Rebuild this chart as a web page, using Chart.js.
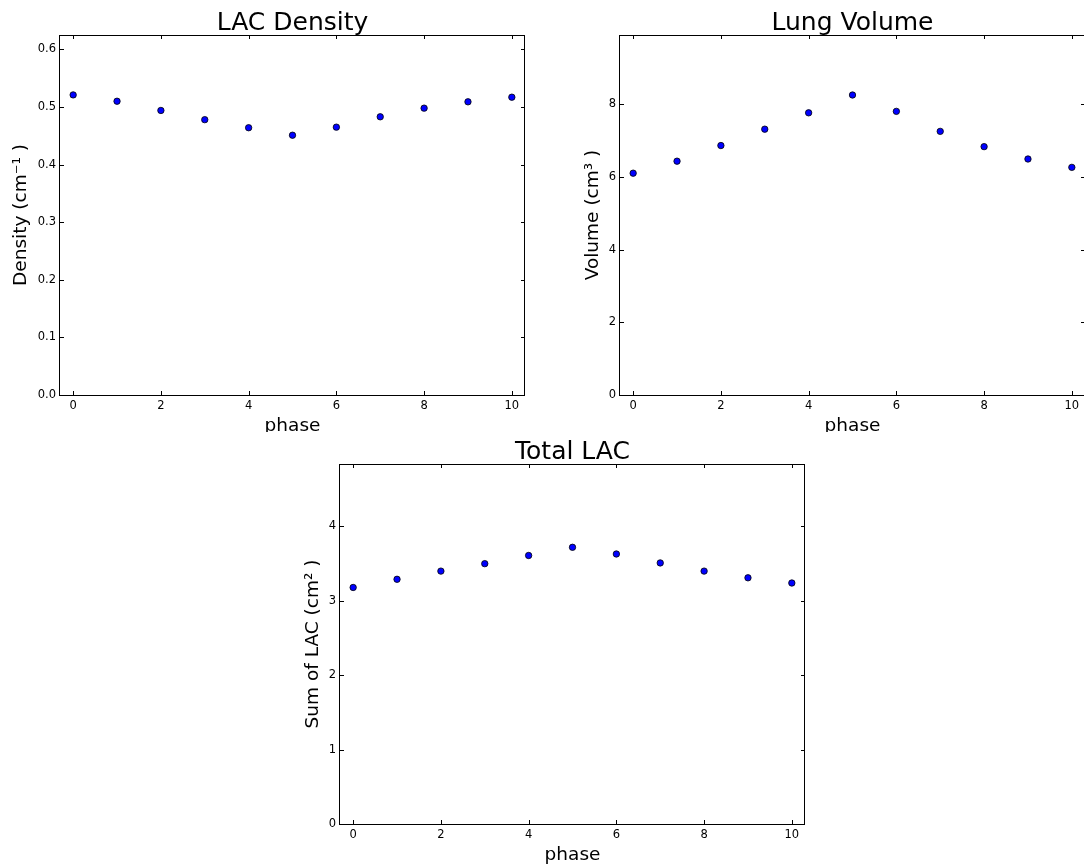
<!DOCTYPE html>
<html>
<head>
<meta charset="utf-8">
<script src="https://cdn.jsdelivr.net/npm/chart.js@4.4.1/dist/chart.umd.min.js"></script>
<style>
  html, body { margin: 0; padding: 0; background: #fff; overflow: hidden; }
  .panel { position: absolute; overflow: hidden; }
  .panel canvas { display: block; }
</style>
</head>
<body>
<div class="panel" style="left:0;top:0;width:540px;height:432px"><canvas id="densityChart" width="540" height="435"></canvas></div>
<div class="panel" style="left:560px;top:0;width:524px;height:432px"><canvas id="volumeChart" width="540" height="435"></canvas></div>
<div class="panel" style="left:280px;top:429px;width:540px;height:436px"><canvas id="totalChart" width="540" height="435"></canvas></div>
<script>
// data
const phases = [0, 1, 2, 3, 4, 5, 6, 7, 8, 9, 10];
const density = [0.521, 0.510, 0.494, 0.478, 0.464, 0.451, 0.465, 0.483, 0.498, 0.509, 0.517];
const volume = [6.10, 6.43, 6.86, 7.31, 7.76, 8.25, 7.80, 7.25, 6.83, 6.49, 6.26];
const totalLac = [3.18, 3.29, 3.40, 3.50, 3.61, 3.72, 3.63, 3.51, 3.40, 3.31, 3.24];

const phaseTicks = [0, 2, 4, 6, 8, 10];
const densityTicks = [0.0, 0.1, 0.2, 0.3, 0.4, 0.5, 0.6];
const volumeTicks = [0, 2, 4, 6, 8];
const totalTicks = [0, 1, 2, 3, 4];

const FONT = "'DejaVu Sans', sans-serif";

// matplotlib-style box with inward ticks on all four sides
const frameTicks = {
    id: 'frameTicks',
    afterDraw(chart) {
        const { ctx, chartArea: a, scales: { x, y } } = chart;
        const len = 4;
        ctx.save();
        ctx.strokeStyle = '#000';
        ctx.lineWidth = 1;
        ctx.beginPath();
        x.ticks.forEach(t => {
            const px = Math.round(x.getPixelForValue(t.value)) + 0.5;
            ctx.moveTo(px, a.top); ctx.lineTo(px, a.top + len);
            ctx.moveTo(px, a.bottom); ctx.lineTo(px, a.bottom - len);
        });
        y.ticks.forEach(t => {
            const py = Math.round(y.getPixelForValue(t.value)) + 0.5;
            ctx.moveTo(a.left, py); ctx.lineTo(a.left + len, py);
            ctx.moveTo(a.right, py); ctx.lineTo(a.right - len, py);
        });
        ctx.stroke();
        ctx.strokeRect(a.left - 0.5, a.top + 0.5, a.width, a.height);
        ctx.restore();
    }
};

function makeChart(id, title, yLabel, values, yTicks, yMax, fmt, yTitlePad) {
    const ctx = document.getElementById(id).getContext('2d');
    return new Chart(ctx, {
        type: 'scatter',
        data: {
            datasets: [{
                data: phases.map((p, i) => ({ x: p, y: values[i] })),
                backgroundColor: '#0000ff',
                borderColor: '#000',
                borderWidth: 0.8,
                pointRadius: 3.2
            }]
        },
        options: {
            responsive: false,
            animation: false,
            devicePixelRatio: 1,
            layout: { padding: { top: 0, right: 15, bottom: 0, left: 0 } },
            plugins: {
                legend: { display: false },
                tooltip: { enabled: false },
                title: {
                    display: true,
                    text: title,
                    color: '#000',
                    fullSize: false,
                    font: { family: FONT, size: 25, weight: 'normal', lineHeight: 0.96 },
                    padding: { top: 11, bottom: 0 }
                }
            },
            scales: {
                x: {
                    type: 'linear',
                    min: -0.3,
                    max: 10.3,
                    afterBuildTicks: s => { s.ticks = phaseTicks.map(v => ({ value: v })); },
                    afterFit: s => { s.height = 40; },
                    grid: { display: false, drawTicks: false },
                    border: { display: false },
                    ticks: {
                        color: '#000',
                        padding: 4,
                        maxRotation: 0,
                        font: { family: FONT, size: 11.5 },
                        callback: v => String(v)
                    },
                    title: {
                        display: true,
                        text: 'phase',
                        color: '#000',
                        font: { family: FONT, size: 18.5, lineHeight: 1 },
                        padding: { top: 0, bottom: 0 }
                    }
                },
                y: {
                    type: 'linear',
                    min: 0,
                    max: yMax,
                    afterBuildTicks: s => { s.ticks = yTicks.map(v => ({ value: v })); },
                    afterFit: s => { s.width = 60; },
                    grid: { display: false, drawTicks: false },
                    border: { display: false },
                    ticks: {
                        color: '#000',
                        padding: 4,
                        font: { family: FONT, size: 11.5 },
                        callback: fmt
                    },
                    title: {
                        display: true,
                        text: yLabel,
                        color: '#000',
                        font: { family: FONT, size: 18.5, lineHeight: 1 },
                        padding: { top: yTitlePad, bottom: 0 }
                    }
                }
            }
        },
        plugins: [frameTicks]
    });
}

makeChart('densityChart', 'LAC Density', 'Density (cm\u207B\u00B9 )', density, densityTicks, 0.625, v => v.toFixed(1), 11.75);
makeChart('volumeChart', 'Lung Volume', 'Volume (cm\u00B3 )', volume, volumeTicks, 9.9, v => String(v), 23.75);
makeChart('totalChart', 'Total LAC', 'Sum of LAC (cm\u00B2 )', totalLac, totalTicks, 4.84, v => String(v), 23.75);
</script>
</body>
</html>
